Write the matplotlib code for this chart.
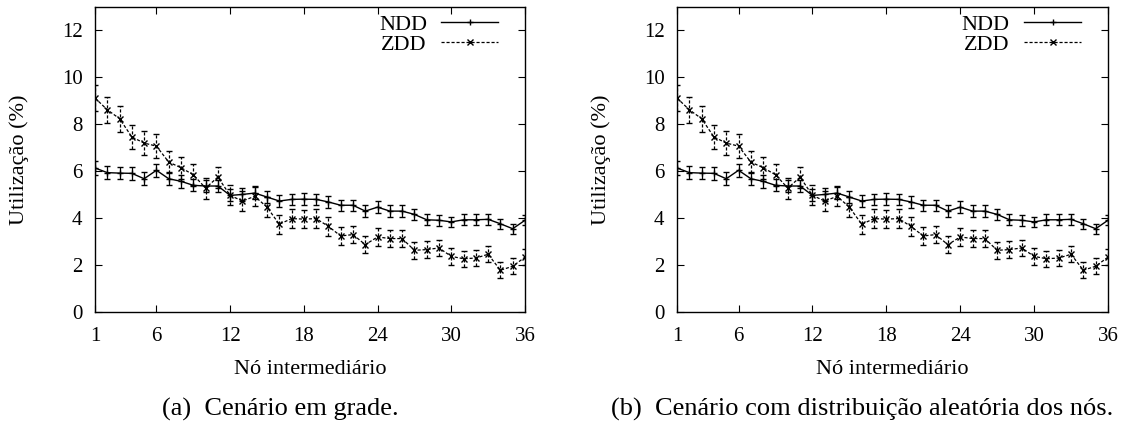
import matplotlib
matplotlib.use("Agg")
import matplotlib.pyplot as plt
from matplotlib.lines import Line2D

nodes = list(range(1, 37))
ndd = [6.14, 5.94, 5.92, 5.91, 5.68, 6.04, 5.68, 5.57, 5.40, 5.37, 5.37, 4.97,
       5.01, 5.07, 4.90, 4.73, 4.80, 4.81, 4.80, 4.69, 4.55, 4.55, 4.30, 4.47,
       4.30, 4.30, 4.16, 3.93, 3.91, 3.84, 3.93, 3.93, 3.95, 3.76, 3.55, 3.91]
ndd_err = [0.28, 0.28, 0.27, 0.27, 0.27, 0.28, 0.27, 0.27, 0.26, 0.26, 0.26, 0.26,
           0.26, 0.26, 0.25, 0.25, 0.25, 0.25, 0.25, 0.25, 0.24, 0.24, 0.24, 0.24,
           0.24, 0.24, 0.23, 0.23, 0.23, 0.23, 0.23, 0.23, 0.23, 0.22, 0.22, 0.22]
zdd = [9.12, 8.62, 8.24, 7.46, 7.20, 7.07, 6.39, 6.15, 5.85, 5.28, 5.75, 4.97,
       4.73, 4.93, 4.47, 3.74, 3.98, 3.96, 3.98, 3.65, 3.24, 3.30, 2.87, 3.20,
       3.13, 3.13, 2.63, 2.66, 2.73, 2.37, 2.27, 2.30, 2.46, 1.78, 1.95, 2.34]
zdd_err = [0.55, 0.55, 0.55, 0.50, 0.50, 0.50, 0.48, 0.46, 0.46, 0.45, 0.45, 0.43,
           0.43, 0.43, 0.42, 0.40, 0.40, 0.40, 0.40, 0.39, 0.38, 0.38, 0.37, 0.37,
           0.37, 0.37, 0.36, 0.36, 0.36, 0.35, 0.35, 0.35, 0.35, 0.34, 0.34, 0.34]
xticks = [1, 6, 12, 18, 24, 30, 36]
yticks = [0, 2, 4, 6, 8, 10, 12]
xlabel = "Nó intermediário"
ylabel = "Utilização (%)"
captions = ["(a)  Cenário em grade.", "(b)  Cenário com distribuição aleatória dos nós."]

plt.rcParams['font.family'] = ['Liberation Serif', 'DejaVu Serif']

W, H = 1129, 425
fig = plt.figure(figsize=(W / 100, H / 100), dpi=100)
rects = [[95 / W, 113 / H, 430 / W, 305 / H],
         [677 / W, 113 / H, 431 / W, 305 / H]]
cap_x = [280 / W, 862 / W]
dash = (0, (2.5, 1.5))

for i, r in enumerate(rects):
    ax = fig.add_axes(r)
    ax.errorbar(nodes, ndd, yerr=ndd_err, color='black', lw=1.0,
                marker='+', ms=5, mew=1.0, capsize=2.5, elinewidth=0.9,
                capthick=0.9)
    e2 = ax.errorbar(nodes, zdd, yerr=zdd_err, color='black', lw=0.9,
                     ls=dash, marker='x', ms=5, mew=1.0, capsize=2.5,
                     elinewidth=0.9, capthick=0.9)
    for coll in e2[2]:
        coll.set_linestyle(dash)
    ax.set_xlim(1, 36)
    ax.set_ylim(0, 13)
    ax.set_xticks(xticks)
    ax.set_yticks(yticks)
    ax.tick_params(direction='in', top=True, right=True, labelsize=15,
                   length=5, width=0.8)
    ax.tick_params(axis='x', pad=11)
    ax.tick_params(axis='y', pad=9)
    for s in ax.spines.values():
        s.set_linewidth(1.0)
    ax.set_xlabel(xlabel, fontsize=16)
    ax.xaxis.set_label_coords(0.5, (312 - 369) / 305)
    ax.xaxis.label.set_va('center')
    ax.set_ylabel(ylabel, fontsize=16)
    ax.yaxis.set_label_coords((19 - 95) / 430, 0.5)
    ax.yaxis.label.set_va('center')
    h1 = Line2D([], [], color='black', lw=1.0, marker='+', ms=4, mew=1.0)
    h2 = Line2D([], [], color='black', lw=0.9, ls=dash, marker='x', ms=4, mew=1.0)
    ax.legend([h1, h2], ['NDD', 'ZDD'], loc='upper right', frameon=False,
              markerfirst=False, fontsize=16, handlelength=2.55,
              handletextpad=0.65, labelspacing=0.0, borderaxespad=0.0,
              borderpad=0.0, bbox_to_anchor=((498 - 95) / 430, (312 - 14) / 305))
    fig.text(cap_x[i], 1 - 409 / H, captions[i], ha='center', va='center', fontsize=19)

fig.savefig("out.png", dpi=100)
